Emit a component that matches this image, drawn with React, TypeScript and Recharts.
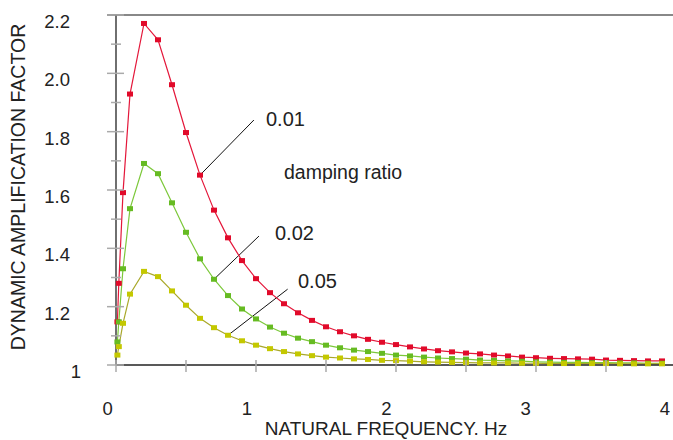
import { LineChart, Line, XAxis, YAxis, ReferenceLine } from "recharts";

// frequency points, Hz
const FREQ = [
  0.01, 0.02, 0.05, 0.1, 0.2, 0.3, 0.4, 0.5, 0.6, 0.7, 0.8, 0.9, 1.0, 1.1, 1.2, 1.3, 1.4, 1.5, 1.6,
  1.7, 1.8, 1.9, 2.0, 2.1, 2.2, 2.3, 2.4, 2.5, 2.6, 2.7, 2.8, 2.9, 3.0, 3.1, 3.2, 3.3, 3.4, 3.5,
  3.6, 3.7, 3.8, 3.9,
];

// damping ratio 0.01
const DAF_001 = [
  1.148, 1.28, 1.591, 1.929, 2.171, 2.115, 1.961, 1.797, 1.651, 1.531, 1.436, 1.358, 1.296, 1.248,
  1.21, 1.179, 1.153, 1.131, 1.114, 1.1, 1.088, 1.078, 1.07, 1.062, 1.055, 1.049, 1.045, 1.041,
  1.038, 1.034, 1.031, 1.027, 1.025, 1.023, 1.022, 1.021, 1.02, 1.017, 1.016, 1.015, 1.014, 1.014,
];

// damping ratio 0.02
const DAF_002 = [
  1.079, 1.148, 1.33, 1.536, 1.691, 1.656, 1.556, 1.455, 1.364, 1.294, 1.238, 1.192, 1.158, 1.13,
  1.109, 1.092, 1.08, 1.068, 1.059, 1.051, 1.046, 1.04, 1.034, 1.031, 1.027, 1.024, 1.022, 1.02,
  1.017, 1.016, 1.014, 1.013, 1.011, 1.01, 1.009, 1.009, 1.008, 1.008, 1.007, 1.007, 1.006, 1.006,
];

// damping ratio 0.05
const DAF_005 = [
  1.034, 1.063, 1.143, 1.243, 1.321, 1.303, 1.254, 1.205, 1.16, 1.128, 1.102, 1.083, 1.068, 1.056,
  1.046, 1.038, 1.032, 1.027, 1.024, 1.021, 1.019, 1.016, 1.015, 1.013, 1.011, 1.01, 1.009, 1.008,
  1.007, 1.007, 1.007, 1.006, 1.006, 1.005, 1.005, 1.005, 1.005, 1.005, 1.004, 1.004, 1.004, 1.004,
];

const X_TICKS = [0, 0.5, 1, 1.5, 2, 2.5, 3, 3.5, 4];
const X_LABELS: Record<number, string> = { 0: "0", 1: "1", 2: "2", 3: "3", 4: "4" };
const Y_TICKS = [1, 1.1, 1.2, 1.3, 1.4, 1.5, 1.6, 1.7, 1.8, 1.9, 2.0, 2.1, 2.2];
const Y_LABELS: Record<string, string> = {
  "1": "1", "1.2": "1.2", "1.4": "1.4", "1.6": "1.6", "1.8": "1.8", "2": "2.0", "2.2": "2.2",
};

const RED = "#e10a2a";
const GREEN = "#66bb22";
const YELLOW = "#c4c800";
const FONT = "'Liberation Sans', Arial, sans-serif";

const data = FREQ.map((f, i) => ({ f, a: DAF_001[i], b: DAF_002[i], c: DAF_005[i] }));

const square = (fill: string) => (p: any) =>
  <rect key={p.index} x={p.cx - 3} y={p.cy - 2.5} width={6} height={5} fill={fill} />;

function XTick({ x, y, payload }: any) {
  const v = payload.value;
  const label = X_LABELS[v];
  return (
    <g>
      <line x1={x} x2={x} y1={y - 5} y2={y + 7} stroke="#aaa" strokeWidth={1.5} />
      {label && (
        <text x={x - 8.3 - 0.7 * v} y={y + 50} textAnchor="middle" fontSize={18.5} fill="#222" fontFamily={FONT}>
          {label}
        </text>
      )}
    </g>
  );
}

function YTick({ x, y, payload }: any) {
  const key = String(Math.round(payload.value * 10) / 10);
  const label = Y_LABELS[key];
  const major = label !== undefined;
  return (
    <g>
      <line x1={x - (major ? 9 : 5)} x2={x + (major ? 8 : 5)} y1={y} y2={y} stroke="#aaa" strokeWidth={1.5} />
      {label && (
        <text x={key === "1" ? x - 35 : x - 46} y={y + 13} textAnchor="end" fontSize={18.5} fill="#222" fontFamily={FONT}>
          {label}
        </text>
      )}
    </g>
  );
}

export default function App() {
  return (
    <div style={{ position: "fixed", left: 0, top: 0, width: 673, height: 440, overflow: "hidden", background: "#fff" }}>
      <LineChart width={690} height={440} data={data} margin={{ top: 15, right: 14, bottom: 0, left: 0 }}>
        <XAxis
          type="number"
          dataKey="f"
          domain={[0, 4]}
          ticks={X_TICKS}
          interval={0}
          height={75}
          tickSize={0}
          tickMargin={0}
          tickLine={false}
          tick={<XTick />}
          axisLine={{ stroke: "#222", strokeWidth: 1.3 }}
        />
        <YAxis
          type="number"
          domain={[1, 2.2]}
          ticks={Y_TICKS}
          interval={0}
          width={116}
          tickSize={0}
          tickMargin={0}
          tickLine={false}
          tick={<YTick />}
          axisLine={{ stroke: "#222", strokeWidth: 1.3 }}
        />
        <ReferenceLine
          segment={[{ x: -0.064, y: 2.2 }, { x: 4, y: 2.2 }]}
          stroke="#888"
          strokeWidth={2}
          ifOverflow="visible"
        />
        <ReferenceLine segment={[{ x: 0.6, y: 1.651 }, { x: 0.985, y: 1.84 }]} stroke="#111" strokeWidth={1} />
        <ReferenceLine segment={[{ x: 0.7, y: 1.294 }, { x: 1.021, y: 1.442 }]} stroke="#111" strokeWidth={1} />
        <ReferenceLine segment={[{ x: 0.8, y: 1.102 }, { x: 1.226, y: 1.26 }]} stroke="#111" strokeWidth={1} />
        <Line type="linear" dataKey="a" stroke="#e4173a" strokeWidth={1.2} dot={square(RED)} activeDot={false} isAnimationActive={false} />
        <Line type="linear" dataKey="b" stroke="#7cc83a" strokeWidth={1.2} dot={square(GREEN)} activeDot={false} isAnimationActive={false} />
        <Line type="linear" dataKey="c" stroke="#a9a82a" strokeWidth={1.2} dot={square(YELLOW)} activeDot={false} isAnimationActive={false} />
      </LineChart>
      <svg width={673} height={440} style={{ position: "absolute", left: 0, top: 0, pointerEvents: "none" }} fontFamily={FONT} fill="#222">
        <text x={266} y={126} fontSize={20}>0.01</text>
        <text x={284} y={179} fontSize={19.5}>damping ratio</text>
        <text x={275} y={240} fontSize={20}>0.02</text>
        <text x={298} y={287.5} fontSize={20}>0.05</text>
        <text x={386} y={435} fontSize={19} textAnchor="middle">NATURAL FREQUENCY. Hz</text>
        <text transform="translate(25,187) rotate(-90)" fontSize={19.5} textAnchor="middle">DYNAMIC AMPLIFICATION FACTOR</text>
      </svg>
    </div>
  );
}
